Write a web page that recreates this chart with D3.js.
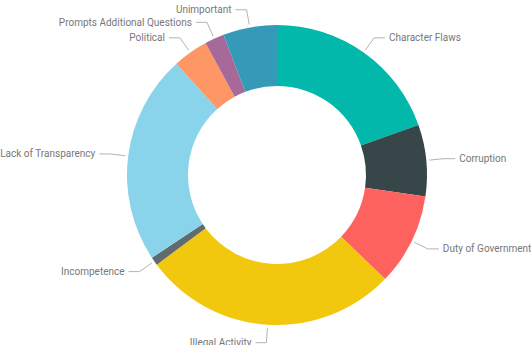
<!DOCTYPE html>
<html>
<head>
<meta charset="utf-8">
<script src="https://cdn.jsdelivr.net/npm/d3@7"></script>
<style>
  body { margin: 0; background: #fff; }
</style>
</head>
<body>
<div id="chart"></div>
<script>
// data (share of responses, %)
var categories = ["Character Flaws", "Corruption", "Duty of Government", "Illegal Activity",
  "Incompetence", "Lack of Transparency", "Political", "Prompts Additional Questions", "Unimportant"];
var values = [19.6, 7.7, 9.9, 27.6, 0.9, 22.6, 3.8, 2.1, 5.8];
var colors = ["#01B8AA", "#374649", "#FD625E", "#F2C80F", "#5F6B6D", "#8AD4EB", "#FE9666", "#A66999", "#3599B8"];

var width = 531, height = 345;
var cx = 277, cy = 175;
var outerR = 150, innerR = 89;

var svg = d3.select("#chart")
  .append("svg")
  .attr("width", width)
  .attr("height", height)
  .append("g")
  .attr("transform", "translate(" + cx + "," + cy + ")");

var data = categories.map(function (c, i) { return { name: c, value: values[i] }; });

var color = d3.scaleOrdinal()
  .domain(categories)
  .range(colors);

var pie = d3.pie()
  .sort(null)
  .value(function (d) { return d.value; });

var arcs = pie(data);

var arc = d3.arc()
  .innerRadius(innerR)
  .outerRadius(outerR);

// slices
svg.selectAll("path.slice")
  .data(arcs)
  .enter().append("path")
  .attr("class", "slice")
  .attr("d", arc)
  .attr("fill", function (d) { return color(d.data.name); });

// leader lines: radial bit from the edge, then a short horizontal run
var startR = outerR + 3, elbowR = 168, run = 11, gap = 4;

function mid(d) { return (d.startAngle + d.endAngle) / 2; }
function polar(a, r) { return [Math.sin(a) * r, -Math.cos(a) * r]; }
function side(d) { return mid(d) < Math.PI ? 1 : -1; }

svg.selectAll("polyline")
  .data(arcs)
  .enter().append("polyline")
  .attr("points", function (d) {
    var a = mid(d);
    var p0 = polar(a, startR), p1 = polar(a, elbowR);
    var p2 = [p1[0] + side(d) * run, p1[1]];
    return [p0, p1, p2].map(function (p) { return p.join(","); }).join(" ");
  })
  .attr("fill", "none")
  .attr("stroke", "#b3b3b3")
  .attr("stroke-width", 1);

svg.selectAll("text.label")
  .data(arcs)
  .enter().append("text")
  .attr("class", "label")
  .attr("x", function (d) { return polar(mid(d), elbowR)[0] + side(d) * (run + gap); })
  .attr("y", function (d) { return polar(mid(d), elbowR)[1]; })
  .attr("dy", "0.35em")
  .attr("text-anchor", function (d) { return side(d) > 0 ? "start" : "end"; })
  .style("font-family", "Roboto, 'Open Sans', sans-serif")
  .style("font-size", "10px")
  .style("fill", "#777")
  .text(function (d) { return d.data.name; });
</script>
</body>
</html>
